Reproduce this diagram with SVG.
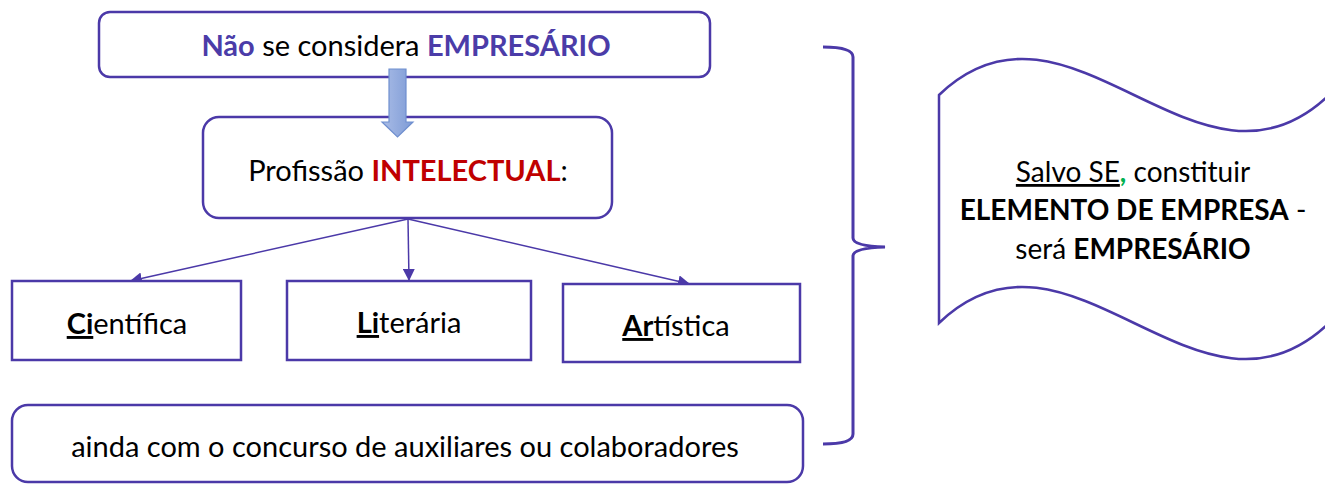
<svg xmlns="http://www.w3.org/2000/svg" width="1325" height="484" viewBox="0 0 1325 484">
<style>
.box{fill:#fff;stroke:#4B39A8;stroke-width:2.5}
.t{font-family:Lato,"Liberation Sans",sans-serif;font-size:29px;fill:#000;text-anchor:middle}
.w{font-size:28px}
.b{font-weight:bold}
.pu{fill:#4B3CA8}
.rd{fill:#C00000}
.conn{stroke:#4B39A8;stroke-width:1.5;fill:none}
</style>
<defs>
<marker id="ah" viewBox="0 0 12 12" refX="12" refY="6" markerWidth="12" markerHeight="12" markerUnits="userSpaceOnUse" orient="auto">
<path d="M0,0 L12,6 L0,12 Z" fill="#4B39A8"/>
</marker>
<linearGradient id="bg" x1="0" y1="0" x2="1" y2="0">
<stop offset="0" stop-color="#A9BCE6"/>
<stop offset="1" stop-color="#7E9BD6"/>
</linearGradient>
</defs>
<g id="connectors">
<path class="conn" d="M408,219 L130,281" marker-end="url(#ah)"/>
<path class="conn" d="M408,219 L409,281" marker-end="url(#ah)"/>
<path class="conn" d="M408,219 L690,284" marker-end="url(#ah)"/>
</g>
<g id="n_top">
<rect class="box" x="99" y="12" width="611" height="65" rx="11"/>
<text class="t" x="406" y="56"><tspan class="b pu">Não</tspan> se considera <tspan class="b pu">EMPRESÁRIO</tspan></text>
</g>
<g id="n_prof">
<rect class="box" x="203" y="117" width="409" height="101" rx="16"/>
<text class="t" x="408" y="181">Profissão <tspan class="b rd">INTELECTUAL</tspan>:</text>
</g>
<g id="block_arrow">
<path d="M389,69 L406,69 L406,122 L413,122 L397.5,137 L382,122 L389,122 Z" fill="url(#bg)" stroke="#6F8FCF" stroke-width="1.2"/>
</g>
<g id="n_cient">
<rect class="box" x="12" y="281" width="229" height="79"/>
<text class="t" x="127" y="334"><tspan class="b" text-decoration="underline">Ci</tspan>entífica</text>
</g>
<g id="n_lit">
<rect class="box" x="287" y="281" width="244" height="79"/>
<text class="t" x="409" y="333"><tspan class="b" text-decoration="underline">Li</tspan>terária</text>
</g>
<g id="n_art">
<rect class="box" x="563" y="284" width="237" height="78"/>
<text class="t" x="676" y="336"><tspan class="b" text-decoration="underline">Ar</tspan>tística</text>
</g>
<g id="n_aux">
<rect class="box" x="12" y="405" width="791" height="77" rx="16"/>
<text class="t" x="405" y="457">ainda com o concurso de auxiliares ou colaboradores</text>
</g>
<g id="brace">
<path d="M823,47 Q853,47 853,57 L853,238 Q853,246 885,247 Q853,248 853,256 L853,434 Q853,444 823,444" fill="none" stroke="#4B39A8" stroke-width="3"/>
</g>
<g id="n_wave">
<path d="M939,95 C1069,-30 1199,220 1329,95 L1329,323 C1199,448 1069,198 939,323 Z" fill="#fff" stroke="#4B39A8" stroke-width="2.5"/>
<text class="t w" x="1133" y="182"><tspan text-decoration="underline">Salvo SE</tspan><tspan class="b" fill="#00B050">,</tspan> constituir</text>
<text class="t w" x="1133" y="220"><tspan class="b">ELEMENTO DE EMPRESA</tspan> -</text>
<text class="t w" x="1133" y="259">será <tspan class="b">EMPRESÁRIO</tspan></text>
</g>
</svg>
